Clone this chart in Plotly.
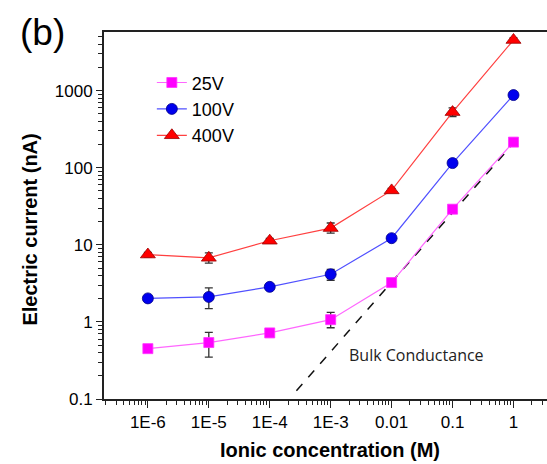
import plotly.graph_objects as go

conc = [1e-6, 1e-5, 1e-4, 1e-3, 1e-2, 1e-1, 1]

i25 = [0.45, 0.54, 0.72, 1.07, 3.24, 29.0, 215]
e25_plus = [0, 0.19, 0, 0.26, 0, 0, 0]
e25_minus = [0, 0.19, 0, 0.23, 0, 0, 0]

i100 = [2.02, 2.11, 2.85, 4.15, 12.2, 115, 877]
e100_plus = [0.1, 0.65, 0.15, 0.65, 0.6, 5, 30]
e100_minus = [0.1, 0.62, 0.15, 0.68, 0.6, 5, 30]

i400 = [7.48, 6.78, 11.3, 16.5, 50.8, 527, 4540]
e400_plus = [0.5, 1.1, 0.8, 2.7, 3, 70, 300]
e400_minus = [0.5, 1.0, 0.8, 2.3, 3, 65, 300]

bulk_x = [2.74e-4, 1.29]
bulk_y = [0.128, 262]

x_tickvals = [1e-6, 1e-5, 1e-4, 1e-3, 1e-2, 1e-1, 1]
x_ticktext = ["1E-6", "1E-5", "1E-4", "1E-3", "0.01", "0.1", "1"]
y_tickvals = [0.1, 1, 10, 100, 1000]
y_ticktext = ["0.1", "1", "10", "100", "1000"]

x_minor = [m * 10.0 ** d for d in range(-7, 1) for m in range(2, 10)]
y_minor = [m * 10.0 ** d for d in range(-1, 4) for m in range(2, 10)]

fig = go.Figure()

fig.add_trace(go.Scatter(
    x=bulk_x, y=bulk_y, mode="lines", showlegend=False,
    line=dict(color="#111111", width=1.5, dash="dash"), hoverinfo="skip"))

def add_series(y, ep, em, name, color, linecolor, edge, symbol, size):
    fig.add_trace(go.Scatter(
        x=conc, y=y, name=name, mode="lines+markers",
        line=dict(color=linecolor, width=1.2),
        marker=dict(symbol=symbol, size=size, color=color,
                    line=dict(color=edge, width=0.8)),
        error_y=dict(type="data", symmetric=False, array=ep, arrayminus=em,
                     color="#333333", thickness=1.3, width=4)))

add_series(i25, e25_plus, e25_minus, "25V", "#ff00ff", "#ff66ff", "#ff33ff", "square", 10)
add_series(i100, e100_plus, e100_minus, "100V", "#0000ee", "#5050ff", "#000088", "circle", 11)
add_series(i400, e400_plus, e400_minus, "400V", "#ff0000", "#ff4040", "#990000", "triangle-up", 13)

fig.add_annotation(x=-1.587, y=-0.425, xref="x", yref="y", text="Bulk Conductance",
                   showarrow=False, font=dict(family="Open Sans", size=16, color="#222222"))

fig.add_annotation(x=-0.194, y=1.0, xref="paper", yref="paper", xanchor="left", yanchor="middle",
                   text="(b)", showarrow=False, font=dict(family="Arial", size=37, color="black"))

fig.add_annotation(x=0.511, y=-0.138, xref="paper", yref="paper", xanchor="center", yanchor="middle",
                   text="<b>Ionic concentration (M)</b>", showarrow=False,
                   font=dict(family="Arial", size=20, color="black"))

fig.add_annotation(x=-0.166, y=0.463, xref="paper", yref="paper", xanchor="center", yanchor="middle",
                   text="<b>Electric current (nA)</b>", showarrow=False, textangle=-90,
                   font=dict(family="Arial", size=20, color="black"))

axis_common = dict(
    type="log", showgrid=False, zeroline=False, automargin=False,
    showline=True, linecolor="#222222", linewidth=1.8,
    ticks="outside", tickwidth=1.3, tickcolor="#222222",
    tickfont=dict(family="Arial", size=17, color="black"),
)

fig.update_layout(
    width=547, height=464,
    margin=dict(l=104, r=0, t=32, b=65),
    paper_bgcolor="white", plot_bgcolor="white",
    xaxis=dict(axis_common, mirror=True, range=[-6.72, 0.55], tickvals=x_tickvals,
               ticktext=x_ticktext, ticklen=7, ticklabelstandoff=0,
               minor=dict(tickmode="array", tickvals=x_minor, ticks="outside",
                          ticklen=4, tickwidth=1.1, tickcolor="#222222")),
    yaxis=dict(axis_common, mirror=False, range=[-1, 3.761], tickvals=y_tickvals,
               ticktext=y_ticktext, ticklen=6,
               minor=dict(tickmode="array", tickvals=y_minor, ticks="outside",
                          ticklen=4, tickwidth=1.1, tickcolor="#222222")),
    legend=dict(x=0.108, y=0.912, xanchor="left", yanchor="top",
                bgcolor="rgba(0,0,0,0)", font=dict(family="Arial", size=18, color="black"),
                tracegroupgap=0, itemwidth=30),
    showlegend=True,
)

fig.write_html("out.html", config={"displayModeBar": False},
               post_script="document.body.style.margin='0';document.body.style.overflow='hidden';")
